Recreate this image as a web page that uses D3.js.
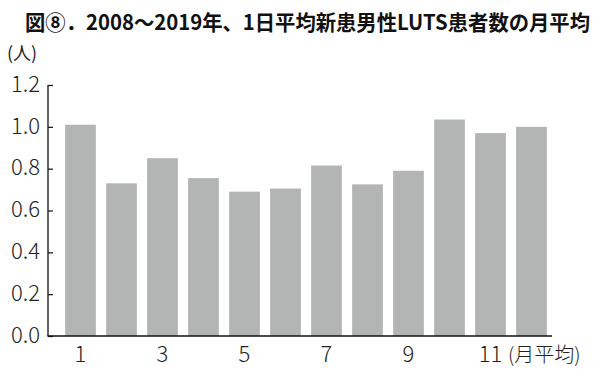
<!DOCTYPE html>
<html><head><meta charset="utf-8">
<script src="https://cdn.jsdelivr.net/npm/d3@7"></script>
<style>body{margin:0;background:#fff}svg{display:block}</style>
</head><body>
<svg id="c" width="614" height="379"></svg>
<script>
const title = "図⑧．2008～2019年、1日平均新患男性LUTS患者数の月平均";
const unitLabel = "(人)";
const months = [1,2,3,4,5,6,7,8,9,10,11,12];
const values = [1.01,0.73,0.85,0.755,0.69,0.705,0.815,0.725,0.79,1.035,0.97,1.0];
const yTicks = [0,0.2,0.4,0.6,0.8,1.0,1.2];
const xTickLabels = [1,3,5,7,9,11];
const xUnit = "(月平均)";

const svg = d3.select("#c");
const font = "'Noto Sans CJK JP','Noto Sans',sans-serif";
const x = d3.scaleBand().domain(months).range([60,552]).paddingInner(0.25).paddingOuter(0.125);
const y = d3.scaleLinear().domain([0,1.2]).range([336,85]);

svg.append("text").attr("x",25).attr("y",30)
  .attr("font-family",font).attr("font-weight","bold").attr("font-size",21).attr("fill","#111")
  .attr("textLength",565).attr("lengthAdjust","spacingAndGlyphs").text(title);
svg.append("text").attr("x",7).attr("y",60).attr("font-family",font).attr("font-size",18).attr("fill","#222").text(unitLabel);

svg.selectAll("rect.bar").data(values).join("rect").attr("class","bar")
  .attr("x",(d,i)=>x(months[i])).attr("width",x.bandwidth())
  .attr("y",d=>y(d)).attr("height",d=>y(0)-y(d)).attr("fill","#b3b4b4");

const yAxis = d3.axisRight(y).tickValues(yTicks).tickSize(5).tickFormat(()=> "");
const gy = svg.append("g").attr("transform","translate(48,0)").call(yAxis);
gy.select(".domain").remove();
gy.selectAll(".tick line").attr("stroke","#111").attr("stroke-width",1.2);
svg.append("line").attr("x1",48).attr("x2",48).attr("y1",y(1.2)).attr("y2",y(0)).attr("stroke","#111").attr("stroke-width",1.3);
svg.append("line").attr("x1",47.4).attr("x2",552).attr("y1",y(0)).attr("y2",y(0)).attr("stroke","#111").attr("stroke-width",1.3);

svg.selectAll("text.yl").data(yTicks).join("text").attr("class","yl")
  .attr("x",40).attr("y",d=>y(d)-1).attr("dy","0.35em").attr("text-anchor","end")
  .attr("font-family",font).attr("font-weight",300).attr("font-size",22).attr("fill","#222").text(d=>d.toFixed(1));

svg.selectAll("text.xl").data(xTickLabels).join("text").attr("class","xl")
  .attr("x",d=>x(d)+x.bandwidth()/2).attr("y",362).attr("text-anchor","middle")
  .attr("font-family",font).attr("font-weight",300).attr("font-size",22).attr("fill","#222").text(d=>d);
svg.append("text").attr("x",508).attr("y",362)
  .attr("font-family",font).attr("font-weight",300).attr("font-size",20).attr("fill","#222").text(xUnit);
</script>
</body></html>
